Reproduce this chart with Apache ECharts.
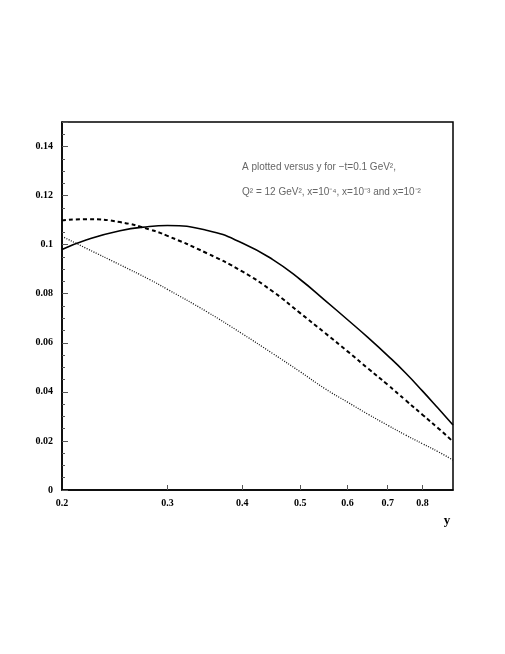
<!DOCTYPE html>
<html>
<head>
<meta charset="utf-8">
<script src="https://cdn.jsdelivr.net/npm/echarts@6/dist/echarts.min.js"></script>
<style>
  html, body { margin: 0; padding: 0; background: #fff; }
  #main { width: 505px; height: 654px; }
</style>
</head>
<body>
<div id="main"></div>
<script>
// x values (the "y" variable, log axis)
var xValues = [0.2, 0.22, 0.25, 0.28, 0.3, 0.35, 0.4, 0.45, 0.5, 0.55, 0.6, 0.65, 0.7, 0.75, 0.8, 0.85, 0.9];
// x = 1e-4 (solid)
var solidValues = [0.0980, 0.1020, 0.1057, 0.1074, 0.1078, 0.1058, 0.1007, 0.0939, 0.0858, 0.0773, 0.0694, 0.0620, 0.0548, 0.0477, 0.0404, 0.0333, 0.0265];
// x = 1e-3 (dashed)
var dashedValues = [0.1099, 0.1104, 0.1092, 0.1062, 0.1036, 0.0964, 0.0891, 0.0809, 0.0721, 0.0640, 0.0565, 0.0494, 0.0429, 0.0366, 0.0307, 0.0252, 0.0197];
// x = 1e-2 (dotted)
var dottedValues = [0.1034, 0.0984, 0.0918, 0.0858, 0.0818, 0.0725, 0.0637, 0.0556, 0.0482, 0.0413, 0.0358, 0.0308, 0.0264, 0.0224, 0.0189, 0.0156, 0.0122];
var xTicks = [0.2, 0.3, 0.4, 0.5, 0.6, 0.7, 0.8];

function pairs(ys) {
  return xValues.map(function (x, i) { return [x, ys[i]]; });
}

var labelFont = { color: '#000', fontFamily: 'Liberation Serif', fontWeight: 'bold', fontSize: 10 };
var noteStyle = { fill: '#666', font: '10px "Liberation Sans"' };

var chart = echarts.init(document.getElementById('main'));
chart.setOption({
  animation: false,
  grid: {
    left: 62, right: 52, top: 122, bottom: 164,
    show: true, borderColor: '#000', borderWidth: 1.5
  },
  xAxis: {
    type: 'log',
    min: 0.2,
    max: 0.9,
    name: 'y',
    nameLocation: 'end',
    nameGap: -6,
    nameTextStyle: {
      color: '#000', fontFamily: 'Liberation Serif', fontWeight: 'bold', fontSize: 13,
      align: 'center', verticalAlign: 'top', padding: [24, 0, 0, 0]
    },
    axisLine: { show: true, onZero: false, lineStyle: { color: '#000', width: 1.5 } },
    axisTick: { show: true, inside: true, length: 5, customValues: xTicks.slice(1), lineStyle: { color: '#555' } },
    axisLabel: Object.assign({ customValues: xTicks, margin: 8 }, labelFont),
    splitLine: { show: false },
    minorTick: { show: false }
  },
  yAxis: {
    type: 'value',
    min: 0,
    max: 0.15,
    interval: 0.02,
    axisLine: { show: true, lineStyle: { color: '#000', width: 1.5 } },
    axisTick: { show: true, inside: true, length: 6, lineStyle: { color: '#555' } },
    minorTick: { show: true, splitNumber: 4, length: 3, lineStyle: { color: '#555' } },
    axisLabel: Object.assign({ margin: 9, showMaxLabel: false, formatter: function (v) { return String(+v.toFixed(2)); } }, labelFont),
    splitLine: { show: false }
  },
  graphic: [
    {
      type: 'text', left: 242, top: 162,
      style: Object.assign({ text: 'A plotted versus y for \u2212t=0.1 GeV\u00b2,' }, noteStyle)
    },
    {
      type: 'text', left: 242, top: 187,
      style: Object.assign({ text: 'Q\u00b2 = 12 GeV\u00b2, x=10\u207b\u2074, x=10\u207b\u00b3 and x=10\u207b\u00b2' }, noteStyle)
    }
  ],
  series: [
    {
      name: 'x=1e-4', type: 'line', smooth: 0.5, symbol: 'none',
      lineStyle: { color: '#000', width: 1.6, type: 'solid' },
      data: pairs(solidValues)
    },
    {
      name: 'x=1e-3', type: 'line', smooth: 0.5, symbol: 'none',
      lineStyle: { color: '#000', width: 2, type: [4, 3] },
      data: pairs(dashedValues)
    },
    {
      name: 'x=1e-2', type: 'line', smooth: 0.5, symbol: 'none',
      lineStyle: { color: '#111', width: 1.3, type: [1, 1.5] },
      data: pairs(dottedValues)
    }
  ]
});
</script>
</body>
</html>
